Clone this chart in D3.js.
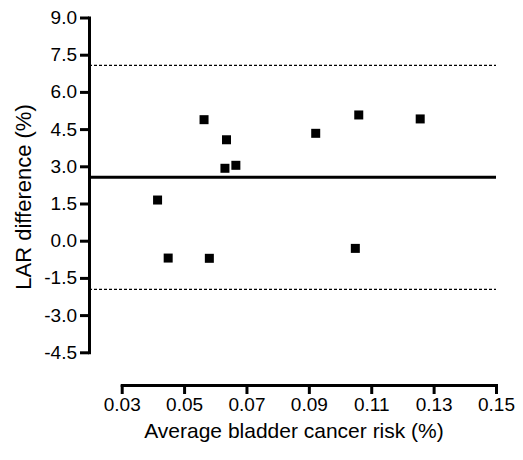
<!DOCTYPE html>
<html>
<head>
<meta charset="utf-8">
<script src="https://cdn.jsdelivr.net/npm/d3@7"></script>
<style>
  body { margin: 0; background: #fff; }
  text { font-family: "Liberation Sans", Arial, sans-serif; fill: #000; }
</style>
</head>
<body>
<div id="chart"></div>
<script>
// average risk (%) and LAR difference (%) per case
let avgRisk = [0.0564, 0.0636, 0.0631, 0.0666, 0.0922, 0.1060, 0.1257, 0.0415, 0.0449, 0.0581, 0.1049];
let larDiff = [4.88, 4.07, 2.92, 3.04, 4.33, 5.07, 4.91, 1.64, -0.70, -0.71, -0.31];
let meanDiff = 2.56;
let limits = [7.07, -1.96];
let xTicks = [0.03, 0.05, 0.07, 0.09, 0.11, 0.13, 0.15];
let yTicks = [-4.5, -3.0, -1.5, 0.0, 1.5, 3.0, 4.5, 6.0, 7.5, 9.0];

let width = 523, height = 460;

let svg = d3.select('#chart').append('svg')
    .attr('width', width)
    .attr('height', height);

let x = d3.scaleLinear().domain([0.03, 0.15]).range([121.7, 496]);
let y = d3.scaleLinear().domain([-4.5, 9]).range([352.3, 17.5]);
let yAxisX = 89;
let xAxisY = 385;

// limits of agreement
svg.selectAll('.limit')
    .data(limits)
    .enter().append('line')
    .attr('class', 'limit')
    .attr('x1', yAxisX).attr('x2', x(0.15))
    .attr('y1', d => y(d)).attr('y2', d => y(d))
    .attr('stroke', '#000')
    .attr('stroke-width', 1.2)
    .attr('stroke-dasharray', '3,2');

// mean difference
svg.append('line')
    .attr('x1', yAxisX).attr('x2', x(0.15))
    .attr('y1', y(meanDiff)).attr('y2', y(meanDiff))
    .attr('stroke', '#000')
    .attr('stroke-width', 3);

// points
let s = 9;
svg.selectAll('.pt')
    .data(avgRisk)
    .enter().append('rect')
    .attr('class', 'pt')
    .attr('x', (d, i) => x(d) - s / 2)
    .attr('y', (d, i) => y(larDiff[i]) - s / 2)
    .attr('width', s).attr('height', s)
    .attr('fill', '#000');

// axes
let yAxis = svg.append('g')
    .attr('transform', 'translate(' + yAxisX + ',0)')
    .call(d3.axisLeft(y).tickValues(yTicks).tickFormat(d3.format('.1f'))
        .tickSize(9).tickSizeOuter(0).tickPadding(3));

let xAxis = svg.append('g')
    .attr('transform', 'translate(0,' + xAxisY + ')')
    .call(d3.axisBottom(x).tickValues(xTicks).tickFormat(d3.format('.2f'))
        .tickSize(9).tickSizeOuter(0).tickPadding(4));

[yAxis, xAxis].forEach(function (g) {
    g.select('.domain').attr('stroke-width', 3).attr('stroke-linecap', 'square');
    g.selectAll('.tick line').attr('stroke-width', 3);
    g.selectAll('.tick text').style('font-size', '19px').attr('fill', '#000');
});
yAxis.selectAll('.tick text').text(function (d) { return d3.format('.1f')(d).replace('\u2212', '-'); });

svg.append('text')
    .attr('x', 294)
    .attr('y', 438)
    .attr('text-anchor', 'middle')
    .style('font-size', '21px')
    .text('Average bladder cancer risk (%)');

svg.append('text')
    .attr('transform', 'translate(31,197) rotate(-90)')
    .attr('text-anchor', 'middle')
    .style('font-size', '22px')
    .text('LAR difference (%)');
</script>
</body>
</html>
